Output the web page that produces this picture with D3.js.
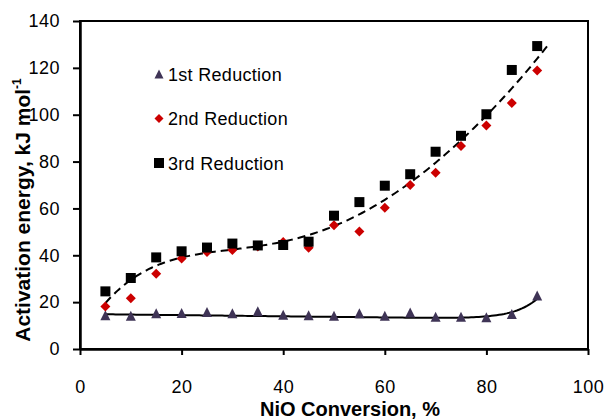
<!DOCTYPE html>
<html>
<head>
<meta charset="utf-8">
<script src="https://cdn.jsdelivr.net/npm/d3@7"></script>
<style>
  body { margin: 0; background: #fff; }
  text { font-family: "Liberation Sans", Arial, sans-serif; }
</style>
</head>
<body>
<script>
var w = 606;
var h = 419;

// data
var conversion = [5, 10, 15, 20, 25, 30, 35, 40, 45, 50, 55, 60, 65, 70, 75, 80, 85, 90];
var reduction1 = [13.7, 13.5, 14.6, 14.7, 15.1, 14.5, 15.4, 13.9, 13.7, 13.5, 14.6, 13.5, 14.9, 13.1, 13.1, 12.8, 14.2, 22.1];
var reduction2 = [18.1, 21.7, 32.1, 38.6, 41.4, 42.3, 43.7, 45.7, 43.2, 52.8, 50.2, 60.3, 70.0, 75.2, 86.6, 95.4, 105.0, 118.9];
var reduction3 = [24.6, 30.3, 39.1, 41.7, 43.3, 45.0, 44.2, 44.4, 45.8, 56.9, 62.7, 69.7, 74.6, 84.2, 91.0, 100.2, 119.1, 129.3];
var seriesNames = ["1st Reduction", "2nd Reduction", "3rd Reduction"];
var xTicks = [0, 20, 40, 60, 80, 100];
var yTicks = [0, 20, 40, 60, 80, 100, 120, 140];

var svg = d3.select("body").append("svg")
    .attr("width", w)
    .attr("height", h);

var xScale = d3.scaleLinear().domain([0, 100]).range([80, 588]);
var yScale = d3.scaleLinear().domain([0, 140]).range([349, 21]);

// least squares with arbitrary basis functions
function lsq(xs, ys, basis) {
    var n = basis.length;
    var A = [], b = [];
    for (var i = 0; i < n; i++) { A.push(new Array(n).fill(0)); b.push(0); }
    xs.forEach(function (x, k) {
        var row = basis.map(function (f) { return f(x); });
        for (var i = 0; i < n; i++) {
            b[i] += row[i] * ys[k];
            for (var j = 0; j < n; j++) A[i][j] += row[i] * row[j];
        }
    });
    for (var c = 0; c < n; c++) {
        var p = c;
        for (var r = c + 1; r < n; r++) if (Math.abs(A[r][c]) > Math.abs(A[p][c])) p = r;
        var t = A[c]; A[c] = A[p]; A[p] = t;
        var tb = b[c]; b[c] = b[p]; b[p] = tb;
        for (var r2 = c + 1; r2 < n; r2++) {
            var f = A[r2][c] / A[c][c];
            for (var j2 = c; j2 < n; j2++) A[r2][j2] -= f * A[c][j2];
            b[r2] -= f * b[c];
        }
    }
    var coef = new Array(n).fill(0);
    for (var i2 = n - 1; i2 >= 0; i2--) {
        var s = b[i2];
        for (var j3 = i2 + 1; j3 < n; j3++) s -= A[i2][j3] * coef[j3];
        coef[i2] = s / A[i2][i2];
    }
    return function (x) {
        return basis.reduce(function (acc, fn, i) { return acc + coef[i] * fn(x); }, 0);
    };
}

function poly(k) {
    var basis = [];
    d3.range(k + 1).forEach(function (i) {
        basis.push(function (x) { return Math.pow(x / 100, i); });
    });
    return basis;
}

// trend for 2nd + 3rd reductions: 5th order polynomial, extended 2 units forward
var fit23 = lsq(conversion.concat(conversion), reduction2.concat(reduction3), poly(5));

// trend for 1st reduction: flat with a late rise
var rise = [
    function () { return 1; },
    function (x) { return x / 100; },
    function (x) { return Math.exp(0.22 * (x - 90)); }
];
var fit1 = lsq(conversion, reduction1, rise);

// frame
svg.append("rect")
    .attr("x", xScale(0))
    .attr("y", yScale(140))
    .attr("width", xScale(100) - xScale(0))
    .attr("height", yScale(0) - yScale(140))
    .attr("fill", "none")
    .attr("stroke", "#000")
    .attr("stroke-width", 2);

// axes
var yAxis = d3.axisLeft(yScale).tickValues(yTicks).tickSize(7).tickSizeOuter(0).tickPadding(13);
var gy = svg.append("g").attr("transform", "translate(" + xScale(0) + ",0)").call(yAxis);

var xAxis = d3.axisBottom(xScale).tickValues(xTicks).tickSize(6).tickSizeOuter(0).tickPadding(25);
var gx = svg.append("g").attr("transform", "translate(0," + yScale(0) + ")").call(xAxis);

[gx, gy].forEach(function (g) {
    g.select(".domain").attr("stroke-width", 2.5);
    g.selectAll(".tick line").attr("stroke-width", 2);
    g.selectAll(".tick text")
        .attr("font-size", 18)
        .attr("letter-spacing", 0.5)
        .attr("fill", "#000")
        .style("font-family", "'Liberation Sans', Arial, sans-serif");
});

// trend lines
var line = d3.line()
    .x(function (d) { return xScale(d); });

svg.append("path")
    .datum(d3.range(5, 92.01, 0.5))
    .attr("d", line.y(function (d) { return yScale(fit23(d)); }))
    .attr("fill", "none")
    .attr("stroke", "#000")
    .attr("stroke-width", 2)
    .attr("stroke-dasharray", "8,5");

svg.append("path")
    .datum(d3.range(5, 90.01, 0.5))
    .attr("d", line.y(function (d) { return yScale(fit1(d)); }))
    .attr("fill", "none")
    .attr("stroke", "#000")
    .attr("stroke-width", 2);

// marker shapes (triangle placed on its centroid)
function triangle(s) { return "M0," + (-2 * s / 3) + "L" + (s / 2) + "," + (s / 3) + "L" + (-s / 2) + "," + (s / 3) + "Z"; }
function diamond(s) { return "M0," + (-s / 2) + "L" + (s / 2) + ",0L0," + (s / 2) + "L" + (-s / 2) + ",0Z"; }
function square(s) { return "M" + (-s / 2) + "," + (-s / 2) + "h" + s + "v" + s + "h" + (-s) + "Z"; }

var series = [
    {name: seriesNames[0], values: reduction1, shape: triangle(10), legendShape: triangle(9), color: "#3f3456"},
    {name: seriesNames[1], values: reduction2, shape: diamond(10), legendShape: diamond(9), color: "#cc0000"},
    {name: seriesNames[2], values: reduction3, shape: square(10), legendShape: square(10), color: "#000000"}
];

series.forEach(function (s) {
    svg.append("g").selectAll("path")
        .data(s.values)
        .enter()
        .append("path")
        .attr("transform", function (d, i) {
            return "translate(" + xScale(conversion[i]) + "," + yScale(d) + ")";
        })
        .attr("d", s.shape)
        .attr("fill", s.color);
});

// legend
var legend = svg.append("g").attr("transform", "translate(159,74)");
series.forEach(function (s, i) {
    var row = legend.append("g").attr("transform", "translate(0," + (i * 44.5) + ")");
    row.append("path")
        .attr("transform", i === 0 ? "translate(0,1.5)" : null)
        .attr("d", s.legendShape)
        .attr("fill", s.color);
    row.append("text")
        .attr("x", 9)
        .attr("y", 6.5)
        .attr("font-size", 18)
        .attr("letter-spacing", 0.3)
        .attr("fill", "#000")
        .text(s.name);
});

// axis titles
var yTitle = svg.append("text")
    .attr("transform", "translate(30,210) rotate(-90)")
    .attr("text-anchor", "middle")
    .attr("font-size", 21)
    .attr("font-weight", "bold")
    .attr("fill", "#000")
    .text("Activation energy, kJ mol");
yTitle.append("tspan")
    .attr("font-size", 12)
    .attr("dy", -9)
    .text("-1");

svg.append("text")
    .attr("x", 350)
    .attr("y", 416)
    .attr("text-anchor", "middle")
    .attr("font-size", 20)
    .attr("font-weight", "bold")
    .attr("fill", "#000")
    .text("NiO Conversion, %");
</script>
</body>
</html>
